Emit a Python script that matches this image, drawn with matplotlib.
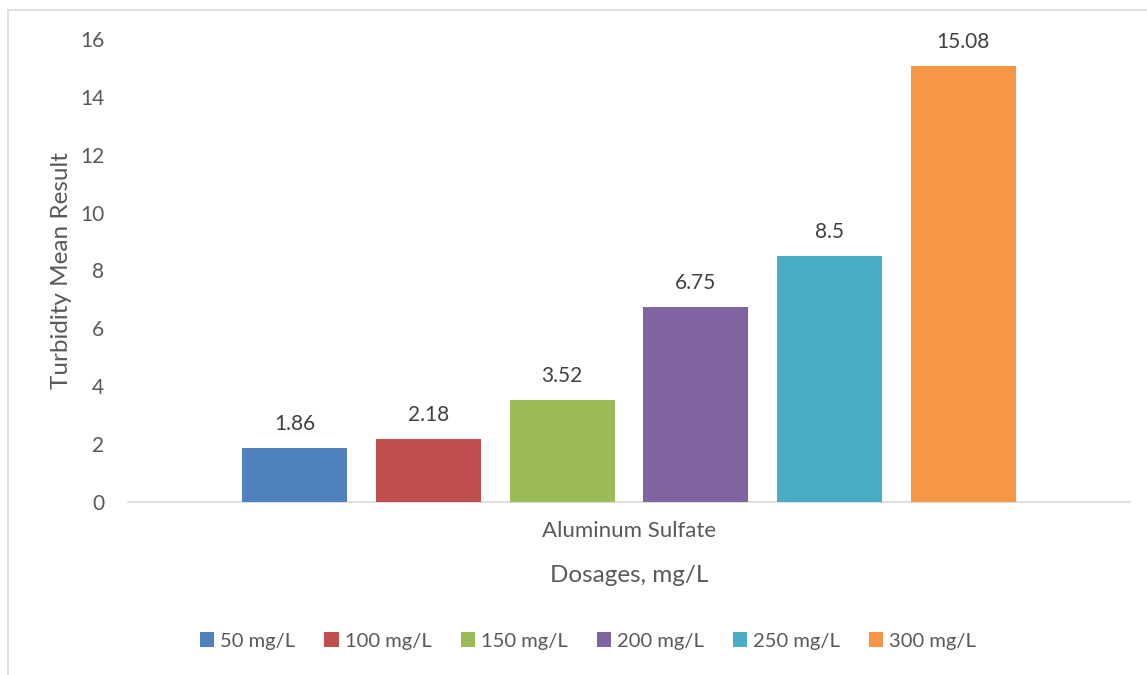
import matplotlib.pyplot as plt
from matplotlib.lines import Line2D

plt.rcParams['font.family'] = ['Lato', 'DejaVu Sans']

category = "Aluminum Sulfate"
dosages = ["50 mg/L", "100 mg/L", "150 mg/L", "200 mg/L", "250 mg/L", "300 mg/L"]
turbidity = [1.86, 2.18, 3.52, 6.75, 8.5, 15.08]
labels = ["1.86", "2.18", "3.52", "6.75", "8.5", "15.08"]
colors = ["#4f81bd", "#c0504d", "#9bbb59", "#8064a2", "#4bacc6", "#f79646"]
yticks = [0, 2, 4, 6, 8, 10, 12, 14, 16]

W, H = 1147, 675
fig = plt.figure(figsize=(W / 100, H / 100), dpi=100)
ax = fig.add_axes([128 / W, 1 - 502 / H, (1130 - 128) / W, (502 - 39) / H])

text_color = "#595959"
step = 0.1334
width = 0.1048
n = len(dosages)
for i, (d, v, lab, c) in enumerate(zip(dosages, turbidity, labels, colors)):
    x = (i - (n - 1) / 2) * step
    ax.bar(x, v, width=width, color=c, label=d, zorder=3)
    ax.annotate(lab, (x, v), xytext=(0, 10), textcoords="offset points",
                ha="center", va="bottom", fontsize=15, color="#404040")

ax.set_xlim(-0.5, 0.5)
ax.set_ylim(0, 16)
ax.set_yticks(yticks)
ax.set_yticklabels([str(t) for t in yticks], fontsize=15, color=text_color)
ax.tick_params(axis="y", length=0, pad=17)
ax.set_xticks([0])
ax.set_xticklabels([category], fontsize=16, color=text_color)
ax.tick_params(axis="x", length=0, pad=14)
for s in ["top", "right", "left"]:
    ax.spines[s].set_visible(False)
ax.spines["bottom"].set_color("#d9d9d9")
ax.spines["bottom"].set_linewidth(1.2)

ax.set_ylabel("Turbidity Mean Result", fontsize=17.5, color=text_color)
ax.yaxis.set_label_coords((72 - 128) / (1130 - 128), 0.5)
fig.text(629 / W, 1 - 576 / H, "Dosages, mg/L", ha="center", va="center",
         fontsize=17.5, color=text_color)

handles, hlabels = ax.get_legend_handles_labels()
fig.legend(handles, hlabels, loc="center", bbox_to_anchor=(588 / W, 1 - 641 / H),
           ncol=n, frameon=False, fontsize=14.5, labelcolor=text_color,
           handlelength=0.7, handleheight=0.7, handletextpad=0.3, columnspacing=1.45)

# chart frame
fig.add_artist(Line2D([8 / W, 1], [1 - 10 / H, 1 - 10 / H], color="#d9d9d9", lw=1.2))
fig.add_artist(Line2D([8 / W, 8 / W], [0, 1 - 10 / H], color="#d9d9d9", lw=1.2))

fig.savefig("out.png", dpi=100)
